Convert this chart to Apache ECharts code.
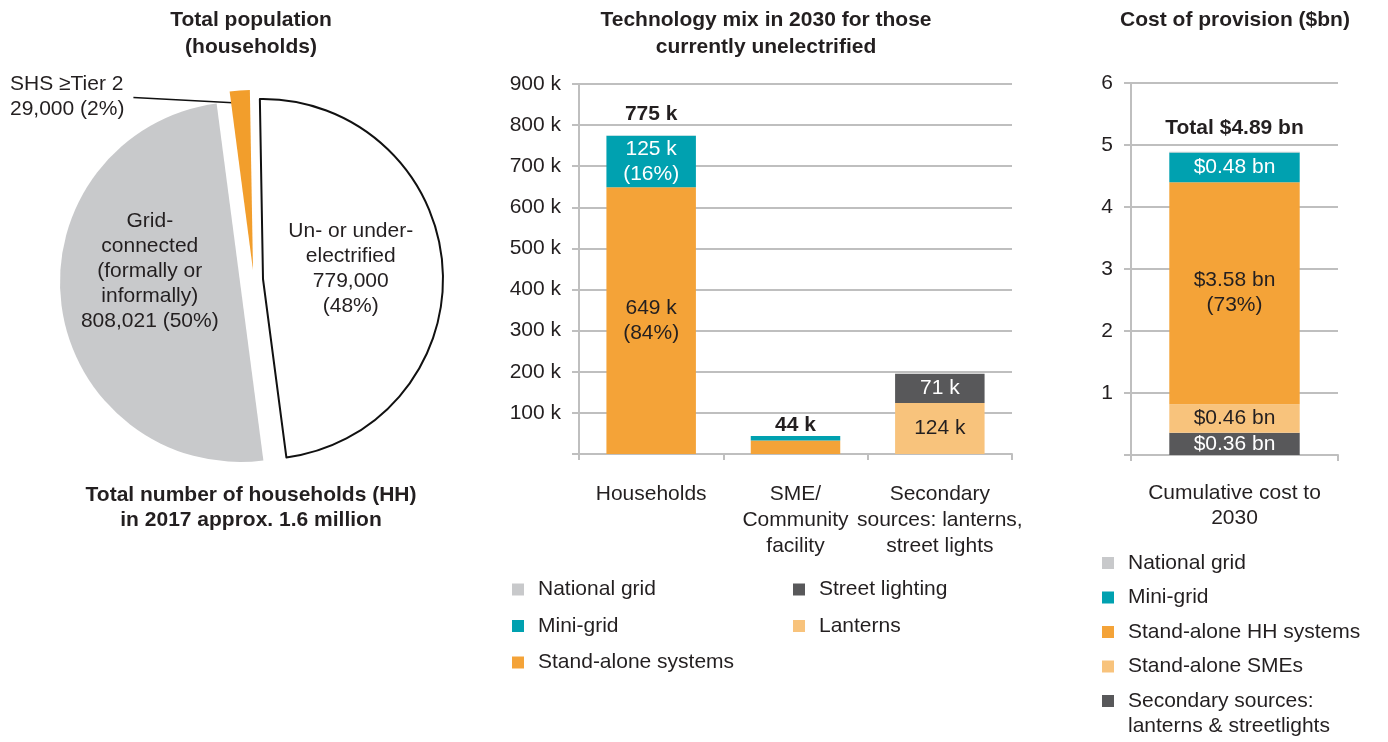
<!DOCTYPE html>
<html><head><meta charset="utf-8">
<script src="https://cdn.jsdelivr.net/npm/echarts@6/dist/echarts.min.js"></script>
<style>html,body{margin:0;padding:0;background:#fff}#c{width:1388px;height:742px}</style>
</head><body><div id="c"></div>
<script>
// ---------- DATA ----------
// Pie: total population (households), 2017
const pieNames = ['Un- or under-\nelectrified', 'Grid-\nconnected\n(formally or\ninformally)', 'SHS ≥Tier 2'];
const pieValues = [779000, 808021, 29000];
const piePercents = ['48%', '50%', '2%'];

// Middle: technology mix in 2030 (thousands)
const mixCategories = ['Households', 'SME/\nCommunity\nfacility', 'Secondary\nsources: lanterns,\nstreet lights'];
const mixStandAlone = [649, 33, 0];
const mixMiniGrid = [125, 11, 0];
const mixNationalGrid = [1, 0, 0];
const mixLanterns = [0, 0, 124];
const mixStreetLighting = [0, 0, 71];
const mixTotals = [775, 44, null];
const mixStandAloneShare = ['84%', null, null];
const mixMiniGridShare = ['16%', null, null];
const mixTicks = { min: 0, max: 900, interval: 100 };

// Right: cost of provision ($bn)
const costCategories = ['Cumulative cost to\n2030'];
const costSecondary = [0.36];
const costSMEs = [0.46];
const costHH = [3.58];
const costMiniGrid = [0.48];
const costNationalGrid = [0.01];
const costTotal = [4.89];
const costHHShare = ['73%'];
const costTicks = { min: 0, max: 6, interval: 1 };

// ---------- STYLE ----------
const FONT = '"Liberation Sans", Arial, sans-serif';
const TXT = '#231F20';
const C = {
  grid: '#C8C9CB', mini: '#00A1B0', orange: '#F4A338', light: '#F8C37C', dark: '#58585A',
  axis: '#BFBFBF'
};

// ---------- PIE SERIES ----------
const pieColors = ['#FFFFFF', C.grid, '#F29E2C'];
const pieBorders = [{ borderColor: '#111', borderWidth: 2 }, {}, {}];
const pieCenters = [[263, 279], [240, 282], [253, 270]];
const pieSeps = ['\n', ' ', ' '];
const pieLayouts = [
  { dx: -5, dy: -3 },
  { dx: 2, dy: -23 },
  p => ({
    x: 10, y: 96.5, align: 'left', verticalAlign: 'middle',
    labelLinePoints: [[10 + p.labelRect.width + 9, 97.5], [p.rect.x + 8, p.rect.y + 13]]
  })
];
const pieSeries = pieValues.map((_, k) => ({
  type: 'pie', silent: true, radius: 180, center: pieCenters[k], startAngle: 91, clockwise: true,
  avoidLabelOverlap: false, animation: false,
  labelLayout: pieLayouts[k],
  data: pieValues.map((v, i) => ({
    name: pieNames[i], value: v,
    itemStyle: i === k ? Object.assign({ color: pieColors[i] }, pieBorders[i]) : { color: 'transparent', borderWidth: 0 },
    label: {
      show: i === k,
      position: i === 2 ? 'outside' : 'inside',
      formatter: pieNames[i] + '\n' + v.toLocaleString('en-US') + pieSeps[i] + '(' + piePercents[i] + ')',
      color: TXT, fontSize: 21, lineHeight: 25, fontFamily: FONT
    },
    labelLine: { show: i === k && i === 2, length: 10, length2: 10, lineStyle: { color: '#111', width: 1.5 } }
  }))
}));

// ---------- BAR HELPERS ----------
const lbl = (color, fmt) => ({ show: true, position: 'inside', color, fontSize: 21, lineHeight: 25, fontFamily: FONT, formatter: fmt });
const shareFmt = (shares, unit) => p => shares[p.dataIndex] ? `${p.value} ${unit}\n(${shares[p.dataIndex]})` : '';
const valFmt = unit => p => p.value > 0 ? `${p.value} ${unit}` : '';

const mixTotalDist = [11, 0];
const costTotalDist = [13];

const axisCommon = {
  axisLine: { show: true, lineStyle: { color: C.axis, width: 2 } },
  axisTick: { show: true, length: 7, lineStyle: { color: C.axis, width: 2 } },
  splitLine: { show: false }
};
const legendText = { fontSize: 21, lineHeight: 21, color: TXT, fontFamily: FONT, padding: [0, 0, 0, 9] };
const legendBase = { orient: 'vertical', padding: 0, itemWidth: 12, itemHeight: 12, icon: 'rect', selectedMode: false, textStyle: legendText };

const option = {
  backgroundColor: '#fff',
  animation: false,
  textStyle: { fontFamily: FONT },
  graphic: [
    { type: 'text', style: { text: 'Total population\n(households)', x: 251, y: 7, align: 'center', verticalAlign: 'top', fontSize: 21, fontWeight: 'bold', lineHeight: 27, fontFamily: FONT, fill: TXT } },
    { type: 'text', style: { text: 'Technology mix in 2030 for those\ncurrently unelectrified', x: 766, y: 7, align: 'center', verticalAlign: 'top', fontSize: 21, fontWeight: 'bold', lineHeight: 27, fontFamily: FONT, fill: TXT } },
    { type: 'text', style: { text: 'Cost of provision ($bn)', x: 1235, y: 7, align: 'center', verticalAlign: 'top', fontSize: 21, fontWeight: 'bold', lineHeight: 27, fontFamily: FONT, fill: TXT } },
    { type: 'text', style: { text: 'Total number of households (HH)\nin 2017 approx. 1.6 million', x: 251, y: 482.5, align: 'center', verticalAlign: 'top', fontSize: 21, fontWeight: 'bold', lineHeight: 25, fontFamily: FONT, fill: TXT } }
  ],
  legend: [
    Object.assign({}, legendBase, { data: ['National grid', 'Mini-grid', 'Stand-alone systems'], left: 512, top: 579, itemGap: 15.5 }),
    Object.assign({}, legendBase, { data: ['Street lighting', 'Lanterns'], left: 793, top: 579, itemGap: 15.5 }),
    Object.assign({}, legendBase, { data: ['National grid', 'Mini-grid', 'Stand-alone HH systems', 'Stand-alone SMEs'], left: 1102, top: 552.5, itemGap: 13.5 }),
    Object.assign({}, legendBase, { data: ['Secondary sources: lanterns & streetlights'], left: 1102, top: 663.5,
      formatter: n => '\n' + n.replace('sources: ', 'sources:\n'),
      textStyle: Object.assign({}, legendText, { lineHeight: 25 }) })
  ],
  grid: [
    { left: 579, top: 84, width: 433, height: 370, outerBoundsMode: 'none' },
    { left: 1131, top: 83, width: 207, height: 372, outerBoundsMode: 'none' }
  ],
  xAxis: [
    Object.assign({}, axisCommon, { type: 'category', gridIndex: 0, data: mixCategories,
      axisTick: { show: true, length: 6, alignWithLabel: false, lineStyle: { color: C.axis, width: 2 } },
      axisLabel: { color: TXT, fontSize: 21, lineHeight: 26, margin: 27, fontFamily: FONT, interval: 0 } }),
    Object.assign({}, axisCommon, { type: 'category', gridIndex: 1, data: costCategories,
      axisTick: { show: true, length: 6, alignWithLabel: false, lineStyle: { color: C.axis, width: 2 } },
      axisLabel: { color: TXT, fontSize: 21, lineHeight: 25, margin: 26, fontFamily: FONT, interval: 0 } })
  ],
  yAxis: [
    Object.assign({}, axisCommon, { type: 'value', gridIndex: 0, min: mixTicks.min, max: mixTicks.max, interval: mixTicks.interval,
      splitLine: { show: true, lineStyle: { color: C.axis, width: 2 } },
      axisLabel: { color: TXT, fontSize: 21, margin: 18, fontFamily: FONT, formatter: v => v === 0 ? '' : v + ' k' } }),
    Object.assign({}, axisCommon, { type: 'value', gridIndex: 1, min: costTicks.min, max: costTicks.max, interval: costTicks.interval,
      splitLine: { show: true, lineStyle: { color: C.axis, width: 2 } },
      axisLabel: { color: TXT, fontSize: 21, margin: 18, fontFamily: FONT, formatter: v => v === 0 ? '' : String(v) } })
  ],
  series: [
    ...pieSeries,
    // middle chart
    { name: 'Stand-alone systems', type: 'bar', stack: 'mix', xAxisIndex: 0, yAxisIndex: 0, barWidth: '62%', data: mixStandAlone,
      itemStyle: { color: C.orange }, label: lbl(TXT, shareFmt(mixStandAloneShare, 'k')) },
    { name: 'Lanterns', type: 'bar', stack: 'mix', xAxisIndex: 0, yAxisIndex: 0, barWidth: '62%', data: mixLanterns,
      itemStyle: { color: C.light }, label: lbl(TXT, valFmt('k')) },
    { name: 'Street lighting', type: 'bar', stack: 'mix', xAxisIndex: 0, yAxisIndex: 0, barWidth: '62%', data: mixStreetLighting,
      itemStyle: { color: C.dark }, label: lbl('#fff', valFmt('k')) },
    { name: 'Mini-grid', type: 'bar', stack: 'mix', xAxisIndex: 0, yAxisIndex: 0, barWidth: '62%', data: mixMiniGrid,
      itemStyle: { color: C.mini }, label: lbl('#fff', shareFmt(mixMiniGridShare, 'k')) },
    { name: 'National grid', type: 'bar', stack: 'mix', xAxisIndex: 0, yAxisIndex: 0, barWidth: '62%', data: mixNationalGrid,
      itemStyle: { color: C.grid } },
    { name: 'mixTotal', type: 'scatter', xAxisIndex: 0, yAxisIndex: 0, symbolSize: 0, itemStyle: { color: 'transparent', opacity: 1 }, silent: true,
      data: mixTotals.map((v, i) => ({ value: v, label: { distance: mixTotalDist[i] } })),
      label: { show: true, position: 'top', color: TXT, fontSize: 21, fontWeight: 'bold', fontFamily: FONT, formatter: p => p.value + ' k' } },
    // right chart
    { name: 'Secondary sources: lanterns & streetlights', type: 'bar', stack: 'cost', xAxisIndex: 1, yAxisIndex: 1, barWidth: '63%', data: costSecondary,
      itemStyle: { color: C.dark }, label: lbl('#fff', p => `$${p.value.toFixed(2)} bn`) },
    { name: 'Stand-alone SMEs', type: 'bar', stack: 'cost', xAxisIndex: 1, yAxisIndex: 1, barWidth: '63%', data: costSMEs,
      itemStyle: { color: C.light }, label: lbl(TXT, p => `$${p.value.toFixed(2)} bn`) },
    { name: 'Stand-alone HH systems', type: 'bar', stack: 'cost', xAxisIndex: 1, yAxisIndex: 1, barWidth: '63%', data: costHH,
      itemStyle: { color: C.orange }, label: lbl(TXT, p => `$${p.value.toFixed(2)} bn\n(${costHHShare[p.dataIndex]})`) },
    { name: 'Mini-grid', type: 'bar', stack: 'cost', xAxisIndex: 1, yAxisIndex: 1, barWidth: '63%', data: costMiniGrid,
      itemStyle: { color: C.mini }, label: lbl('#fff', p => `$${p.value.toFixed(2)} bn`) },
    { name: 'National grid', type: 'bar', stack: 'cost', xAxisIndex: 1, yAxisIndex: 1, barWidth: '63%', data: costNationalGrid,
      itemStyle: { color: C.grid } },
    { name: 'costTotal', type: 'scatter', xAxisIndex: 1, yAxisIndex: 1, symbolSize: 0, itemStyle: { color: 'transparent', opacity: 1 }, silent: true,
      data: costTotal.map((v, i) => ({ value: v, label: { distance: costTotalDist[i] } })),
      label: { show: true, position: 'top', color: TXT, fontSize: 21, fontWeight: 'bold', fontFamily: FONT, formatter: p => `Total $${p.value.toFixed(2)} bn` } }
  ]
};

const chart = echarts.init(document.getElementById('c'), null, { renderer: 'canvas' });
chart.setOption(option);
</script>
</body></html>
